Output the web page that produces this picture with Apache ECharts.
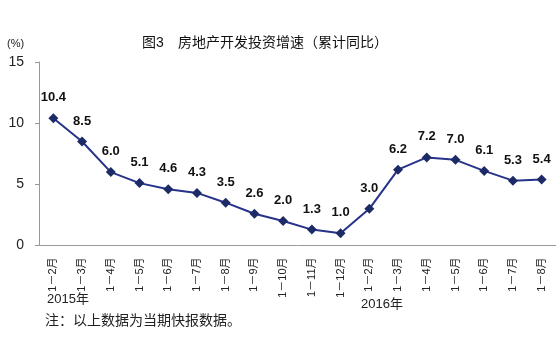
<!DOCTYPE html>
<html><head><meta charset="utf-8">
<script src="https://cdn.jsdelivr.net/npm/echarts@6/dist/echarts.min.js"></script>
<style>html,body{margin:0;padding:0;background:#fff}#c{width:556px;height:340px}</style>
</head><body><div id="c"></div>
<script>
const categories = ['1－2月','1－3月','1－4月','1－5月','1－6月','1－7月','1－8月','1－9月','1－10月','1－11月','1－12月','1－2月','1－3月','1－4月','1－5月','1－6月','1－7月','1－8月'];
const growth = [10.4, 8.5, 6.0, 5.1, 4.6, 4.3, 3.5, 2.6, 2.0, 1.3, 1.0, 3.0, 6.2, 7.2, 7.0, 6.1, 5.3, 5.4];
const yTicks = [0, 5, 10, 15];
const titleText = '图3　房地产开发投资增速（累计同比）';
const unitText = '(%)';
const yearLabels = ['2015年', '2016年'];
const noteText = '注：以上数据为当期快报数据。';

const font = '"Liberation Sans", Arial, "Noto Sans CJK SC", sans-serif';
const chart = echarts.init(document.getElementById('c'), null, {renderer: 'canvas'});
chart.setOption({
  animation: false,
  backgroundColor: '#fff',
  title: {
    text: titleText, left: 260, textAlign: 'center', top: 31,
    textStyle: {fontSize: 14, fontWeight: 'normal', color: '#111', fontFamily: font}
  },
  grid: {left: 39, top: 62, width: 518, height: 183.5, containLabel: false},
  xAxis: {
    type: 'category', data: categories, boundaryGap: true,
    axisLine: {lineStyle: {color: '#999', width: 1}},
    axisTick: {inside: true, length: 3, lineStyle: {color: '#999'}},
    axisLabel: {rotate: 90, interval: 0, fontSize: 11, color: '#222', margin: 12, fontFamily: font}
  },
  yAxis: {
    type: 'value', min: yTicks[0], max: yTicks[yTicks.length - 1], interval: 5,
    axisLine: {show: true, lineStyle: {color: '#999', width: 1}},
    axisTick: {show: true, length: 4, lineStyle: {color: '#999'}},
    splitLine: {show: false},
    axisLabel: {fontSize: 14, color: '#222', margin: 15, fontFamily: font}
  },
  series: [{
    type: 'line', data: growth,
    symbol: 'diamond', symbolSize: 10,
    lineStyle: {color: '#27338a', width: 2},
    itemStyle: {color: '#1c2b66'},
    label: {show: true, position: 'top', distance: 9, fontSize: 13, fontWeight: 'bold', color: '#111',
      fontFamily: font, formatter: p => p.value.toFixed(1)}
  }],
  graphic: [
    {type: 'text', left: 7, top: 38, style: {text: unitText, fontSize: 11, fill: '#222', fontFamily: font}},
    {type: 'text', left: 47, top: 293, style: {text: yearLabels[0], fontSize: 13, fill: '#222', fontFamily: font}},
    {type: 'text', left: 361, top: 298, style: {text: yearLabels[1], fontSize: 13, fill: '#222', fontFamily: font}},
    {type: 'text', left: 45, top: 314, style: {text: noteText, fontSize: 14, fill: '#222', fontFamily: font}}
  ]
});
</script></body></html>
